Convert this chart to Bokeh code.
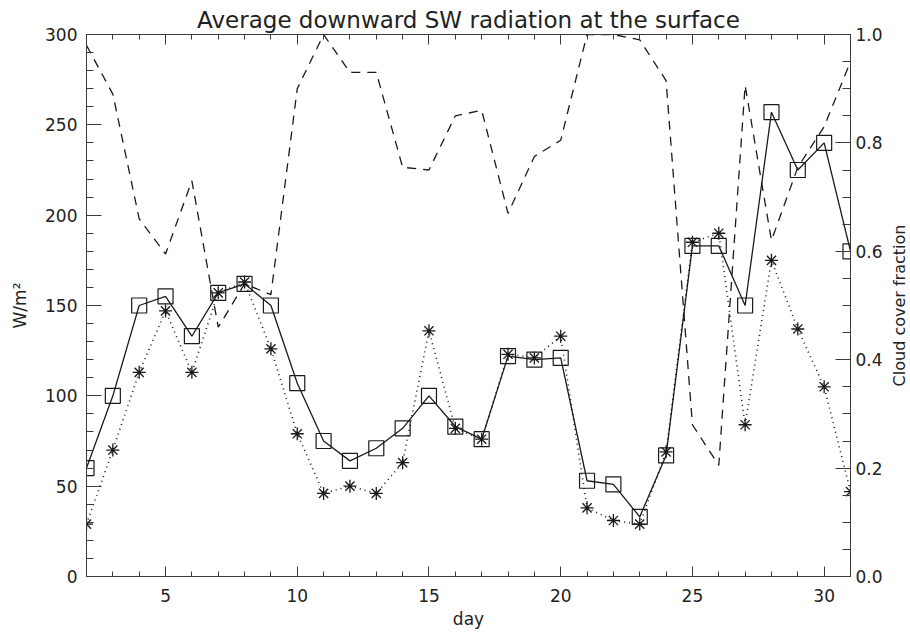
from bokeh.plotting import figure
from bokeh.layouts import row
from bokeh.models import (Range1d, LinearAxis, SingleIntervalTicker, NumeralTickFormatter)
from bokeh.core.properties import value
from bokeh.embed import file_html
from bokeh.resources import INLINE
import math

days = list(range(2, 32))
sw_squares = [60, 100, 150, 155, 133, 157, 162, 150, 107, 75, 64, 71, 82, 100, 83,
              76, 122, 120, 121, 53, 51, 33, 67, 183, 183, 150, 257, 225, 240, 180]
sw_stars = [29, 70, 113, 147, 113, 157, 163, 126, 79, 46, 50, 46, 63, 136, 82,
            76, 123, 121, 133, 38, 31, 29, 69, 185, 190, 84, 175, 137, 105, 47]
cloud = [0.98, 0.89, 0.66, 0.595, 0.73, 0.46, 0.54, 0.52, 0.90, 1.0, 0.93, 0.93, 0.755, 0.75, 0.85,
         0.86, 0.67, 0.775, 0.805, 1.0, 1.0, 0.99, 0.915, 0.28, 0.205, 0.906, 0.62, 0.755, 0.83, 0.95]

x_start, x_end = 2, 31
sw_max = 300
cloud_max = 1.0

title_text = "Average downward SW radiation at the surface"
x_label = "day"
y_label = "W/m\u00b2"
y2_label = "Cloud cover fraction"

FONT = "DejaVu Sans"
INK = "#1a1a1a"
AX = "#3a3a3a"
TXT = "#222222"

H = 633
TOP, BOTTOM = 34, 57

p = figure(width=890, height=H, output_backend="svg", toolbar_location=None,
           x_range=Range1d(x_start, x_end), y_range=Range1d(0, sw_max),
           x_axis_type=None, y_axis_type=None,
           min_border_left=86, min_border_right=40, min_border_top=TOP, min_border_bottom=BOTTOM)
p.extra_y_ranges = {"cloud": Range1d(0, cloud_max)}
p.xgrid.visible = False
p.ygrid.visible = False
p.outline_line_color = AX
p.background_fill_color = "white"
p.border_fill_color = "white"

p.title.text = title_text
p.title.align = "center"
p.title.text_font = FONT
p.title.text_font_size = "23px"
p.title.text_font_style = "normal"
p.title.text_color = TXT
p.title.standoff = 3
p.title.offset = -9


def style_axis(ax, major, minor, font_size="16px"):
    ax.axis_line_color = AX
    ax.major_tick_line_color = AX
    ax.minor_tick_line_color = AX
    ax.major_tick_in = major
    ax.major_tick_out = 0
    ax.minor_tick_in = minor
    ax.minor_tick_out = 0
    ax.major_label_text_font = FONT
    ax.major_label_text_font_size = font_size
    ax.major_label_text_color = TXT
    ax.axis_label_text_font = FONT
    ax.axis_label_text_font_size = font_size
    ax.axis_label_text_font_style = "normal"
    ax.axis_label_text_color = TXT


xb = LinearAxis(ticker=SingleIntervalTicker(interval=5, num_minor_ticks=5), axis_label=x_label)
style_axis(xb, 10, 5, "17px")
xb.major_label_standoff = 12
xb.axis_label_standoff = 4
p.add_layout(xb, "below")

xt = LinearAxis(ticker=SingleIntervalTicker(interval=5, num_minor_ticks=5))
style_axis(xt, 10, 5)
xt.major_label_text_color = None
xt.major_label_standoff = 0
p.add_layout(xt, "above")

yl = LinearAxis(ticker=SingleIntervalTicker(interval=50, num_minor_ticks=5), axis_label=y_label)
style_axis(yl, 15, 7, "17px")
yl.major_label_standoff = 9
yl.axis_label_standoff = 12
p.add_layout(yl, "left")

yr = LinearAxis(y_range_name="cloud", ticker=SingleIntervalTicker(interval=0.2, num_minor_ticks=4),
                formatter=NumeralTickFormatter(format="0.0"))
style_axis(yr, 15, 8, "16px")
yr.major_label_text_font_size = "17px"
yr.major_label_standoff = 5
p.add_layout(yr, "right")

# cloud cover (dashed, right axis)
p.line(days, cloud, y_range_name="cloud", line_color=INK, line_width=1.3, line_dash="9 7")
# dotted series with asterisks
p.line(days, sw_stars, line_color=INK, line_width=1.6, line_dash="1 4")
p.scatter(days, sw_stars, marker="asterisk", size=13, line_color=INK, line_width=1.3)
# solid series with open squares
p.line(days, sw_squares, line_color=INK, line_width=1.3)
p.scatter(days, sw_squares, marker="square", size=15, line_color=INK, line_width=1.2,
          fill_alpha=0)

# narrow strip carrying the right-axis title, reading bottom to top
q = figure(width=18, height=H, output_backend="svg", toolbar_location=None,
           x_range=Range1d(0, 1), y_range=Range1d(0, cloud_max),
           x_axis_type=None, y_axis_type=None,
           min_border_left=0, min_border_right=0, min_border_top=TOP, min_border_bottom=BOTTOM)
q.xgrid.visible = False
q.ygrid.visible = False
q.outline_line_color = None
q.background_fill_color = "white"
q.border_fill_color = "white"
q.text(x=[0.5], y=[cloud_max / 2], text=[y2_label], angle=math.pi / 2,
       text_align="center", text_baseline="middle",
       text_font=value(FONT), text_font_size="16px", text_color=TXT)

layout = row(p, q, spacing=0)
open("out.html", "w").write(file_html(layout, INLINE))
